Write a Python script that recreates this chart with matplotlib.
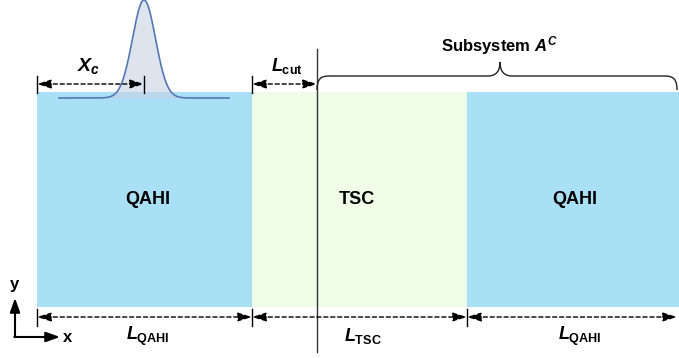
import numpy as np
import matplotlib
matplotlib.use("Agg")
import matplotlib.pyplot as plt
from matplotlib.path import Path
from matplotlib.patches import PathPatch, Rectangle

plt.rcParams['font.family'] = ['Liberation Sans', 'DejaVu Sans']
plt.rcParams['mathtext.fontset'] = 'custom'
plt.rcParams['mathtext.it'] = 'Liberation Sans:bold:italic'
plt.rcParams['mathtext.bf'] = 'Liberation Sans:bold'
plt.rcParams['mathtext.rm'] = 'Liberation Sans:bold'

# ---- diagram data (lengths in pixel-like units) ----
region_labels = ["QAHI", "TSC", "QAHI"]
region_lengths = [215, 215, 212]
region_colors = ["#aae0f6", "#eefce8", "#aae0f6"]
bottom_labels = [r"$L_{\mathbf{QAHI}}$", r"$L_{\mathbf{TSC}}$", r"$L_{\mathbf{QAHI}}$"]
L_cut = 65
X_c = 107
packet_sigma = 11.5
packet_height = 98
packet_halfspan = 85

W, H = 679, 358
x0 = 37
y_top, y_bot = 92, 307

fig = plt.figure(figsize=(W / 100, H / 100), dpi=100)
ax = fig.add_axes([0, 0, 1, 1])
ax.set_xlim(0, W)
ax.set_ylim(H, 0)
ax.axis('off')

edges = np.concatenate([[x0], x0 + np.cumsum(region_lengths)])

# regions
for i, (lab, c) in enumerate(zip(region_labels, region_colors)):
    ax.add_patch(Rectangle((edges[i], y_top), edges[i + 1] - edges[i], y_bot - y_top,
                           facecolor=c, edgecolor='none', zorder=1))
label_x = [148, 357, 575]
for lx, lab in zip(label_x, region_labels):
    ax.text(lx, 200, lab, fontsize=13, fontweight='bold', ha='center', va='center', zorder=5)

# wave packet
xc = x0 + X_c
base = y_top + 6
xs = np.linspace(xc - packet_halfspan, xc + packet_halfspan, 400)
ys = base - packet_height * np.exp(-(xs - xc) ** 2 / (2 * packet_sigma ** 2))
ax.fill_between(xs, ys, base, color='#c9d2e4', alpha=0.6, lw=0, zorder=3)
ax.plot(xs, ys, color='#5577b2', lw=1.2, zorder=4)

# cut line
x_cut = edges[1] + L_cut
ax.plot([x_cut, x_cut], [49, 352], color='#333333', lw=1, zorder=6)


def dim(xa, xb, y, ticks=True, tick_lo=8, tick_hi=9):
    ax.annotate('', xy=(xb, y), xytext=(xa, y),
                arrowprops=dict(arrowstyle='<|-|>,head_length=0.7,head_width=0.22',
                                linestyle=(0, (3, 2)), lw=1, color='black',
                                shrinkA=0, shrinkB=0, mutation_scale=12), zorder=7)


def vtick(x, y, lo=8, hi=9):
    ax.plot([x, x], [y - lo, y + hi], color='black', lw=1, zorder=7)


# top dims
y_d = 84
dim(x0, xc, y_d)
vtick(x0, y_d)
vtick(xc, y_d)
dim(edges[1], x_cut, y_d)
vtick(edges[1], y_d)
ax.text((x0 + xc) / 2 - 2, 66, r"$X_c$", fontsize=14, ha='center', va='center')
ax.text((edges[1] + x_cut) / 2 + 2, 66, r"$L_{\mathbf{cut}}$", fontsize=13, ha='center', va='center')

# bottom dims
y_b = 317
for i in range(3):
    dim(edges[i], edges[i + 1] - (2 if i == 2 else 0), y_b)
for e in edges[:3]:
    vtick(e, y_b)
for lx, lab in zip([148, 363, 580], bottom_labels):
    ax.text(lx, 336, lab, fontsize=13, ha='center', va='center')

# brace
yb, yp = 76, 62
xl, xr = x_cut, W - 2
xm = 500
verts = [(xl, 90), (xl, 80), (xl + 3, yb), (xl + 12, yb),
         (xm - 12, yb), (xm - 3, yb), (xm, 70), (xm, yp),
         (xm, 70), (xm + 3, yb), (xm + 12, yb),
         (xr - 12, yb), (xr - 3, yb), (xr, 80), (xr, 90)]
codes = [Path.MOVETO, Path.CURVE4, Path.CURVE4, Path.CURVE4,
         Path.LINETO, Path.CURVE4, Path.CURVE4, Path.CURVE4,
         Path.CURVE4, Path.CURVE4, Path.CURVE4,
         Path.LINETO, Path.CURVE4, Path.CURVE4, Path.CURVE4]
ax.add_patch(PathPatch(Path(verts, codes), facecolor='none', edgecolor='#222222', lw=1, zorder=6))
ax.text(xm, 46, r"Subsystem $A^C$", fontsize=12, fontweight='bold', ha='center', va='center')

# coordinate axes
ox, oy = 15, 337
ax.annotate('', xy=(ox, 298), xytext=(ox, oy),
            arrowprops=dict(arrowstyle='-|>,head_length=0.7,head_width=0.25', lw=1.5,
                            color='black', shrinkA=0, shrinkB=0, mutation_scale=12))
ax.annotate('', xy=(60, oy), xytext=(ox - 0.7, oy),
            arrowprops=dict(arrowstyle='-|>,head_length=0.7,head_width=0.25', lw=1.5,
                            color='black', shrinkA=0, shrinkB=0, mutation_scale=12))
ax.text(ox - 1, 285, "y", fontsize=12, fontweight='bold', ha='center', va='center')
ax.text(68, 337, "x", fontsize=12, fontweight='bold', ha='center', va='center')

fig.savefig("out.png", dpi=100)
